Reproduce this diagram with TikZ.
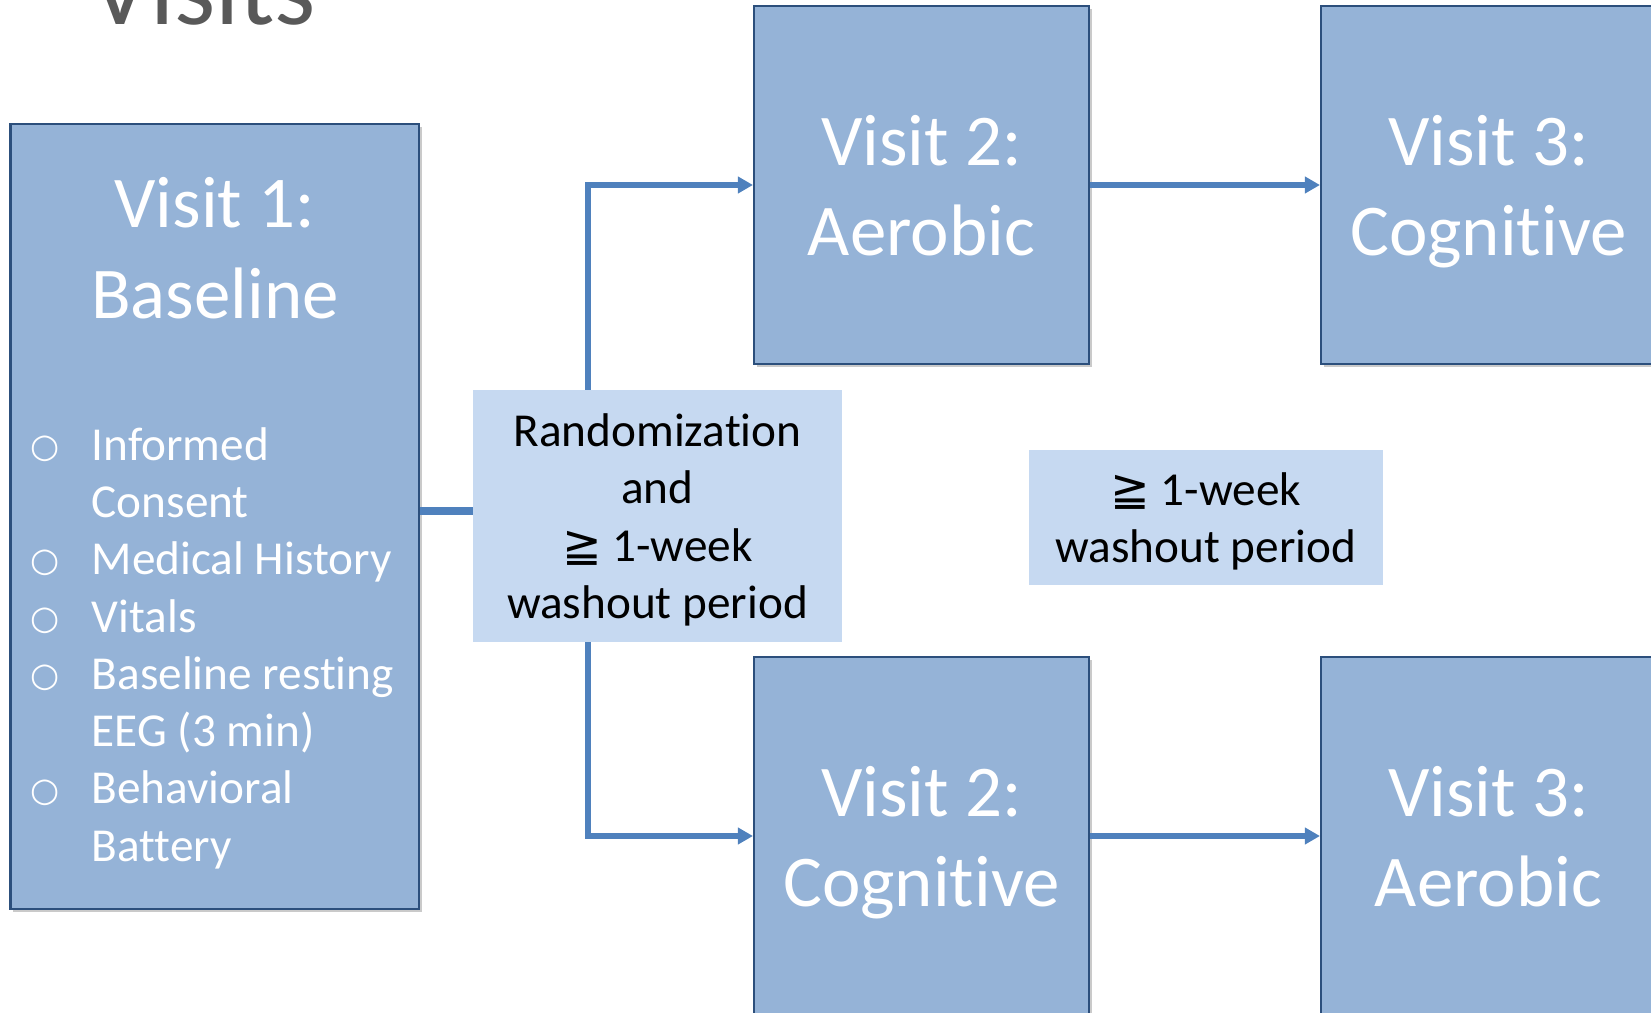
\documentclass[tikz,border=0pt]{standalone}
\usepackage{fontspec}
\setmainfont{Carlito}[Ligatures={NoCommon,NoRequired}]
\newfontfamily\geqfont{DejaVu Sans}
\usetikzlibrary{arrows.meta,shadows}
\definecolor{boxfill}{HTML}{95B3D7}
\definecolor{boxline}{HTML}{2C4F7C}
\definecolor{notefill}{HTML}{C6D9F1}
\definecolor{linkblue}{HTML}{4F81BD}
\definecolor{titlegray}{HTML}{595959}
\newcommand{\visitfont}{\fontsize{41.5pt}{51.3pt}\selectfont}
\newcommand{\notefont}{\fontsize{26.9pt}{32.6pt}\selectfont}
\newcommand{\titlefont}{\fontsize{60pt}{72pt}\selectfont}
\newcommand{\itembullet}{\makebox[34.9pt][l]{\raisebox{1.6pt}{\geqfont\fontsize{19pt}{19pt}\selectfont ○}}}
\newcommand{\hangspace}{\hspace*{34.9pt}}

\begin{document}
\begin{tikzpicture}[x=0.02cm,y=-0.02cm,
		visit/.style={draw=boxline,line width=1.2pt,fill=boxfill,text=white,align=center,font=\visitfont,text depth=0pt,
			minimum width=6.7cm,minimum height=7.16cm,drop shadow={shadow xshift=1.5pt,shadow yshift=-1.5pt,opacity=.35,fill=black!60}},
		note/.style={fill=notefill,align=center,font=\notefont,inner sep=0pt,text depth=0pt},
		link/.style={draw=linkblue,line width=3pt,-{Triangle[length=.3cm,width=.32cm]}}]
		\useasboundingbox (0,0) rectangle (1651,1013);
		\node[anchor=base west,inner sep=0pt,font=\titlefont,text=titlegray] (title) at (90,25) {Visits};
		
		\node[visit,minimum width=8.17cm,minimum height=15.7cm] (v1) at (214.75,516.5) {};
		\node[anchor=south,inner sep=0pt,font=\visitfont,text=white,align=center] (v1head) at (215,319) {Visit 1:\\Baseline};
		\node[anchor=north west,inner sep=0pt,font=\notefont,text=white,align=left] (v1list) at (30,427) {\itembullet Informed\\\hangspace Consent\\\itembullet Medical History\\\itembullet Vitals\\\itembullet Baseline resting\\\hangspace EEG (3 min)\\\itembullet Behavioral\\\hangspace Battery};
		
		\node[note,minimum width=7.38cm,minimum height=5.04cm] (rand) at (657.5,516) {Randomization\\and\\{\geqfont ≧} 1-week\\washout period};
		\node[visit] (v2a) at (921.5,185) {Visit 2:\\Aerobic};
		\node[visit] (v3a) at (1488.5,185) {Visit 3:\\Cognitive};
		\node[visit] (v2b) at (921.5,836) {Visit 2:\\Cognitive};
		\node[visit] (v3b) at (1488.5,836) {Visit 3:\\Aerobic};
		\node[note,minimum width=7.08cm,minimum height=2.7cm] (wash) at (1206,517.5) {{\geqfont ≧} 1-week\\washout period};
		
		\coordinate (fork) at (588,511);
		\draw[linkblue,line width=4pt] (v1.east |- fork) -- (rand.west |- fork);
		\draw[link] (rand.north -| fork) |- (v2a.west);
		\draw[link] (rand.south -| fork) |- (v2b.west);
		\draw[link] (v2a) -- (v3a);
		\draw[link] (v2b) -- (v3b);
	\end{tikzpicture}
\end{document}
